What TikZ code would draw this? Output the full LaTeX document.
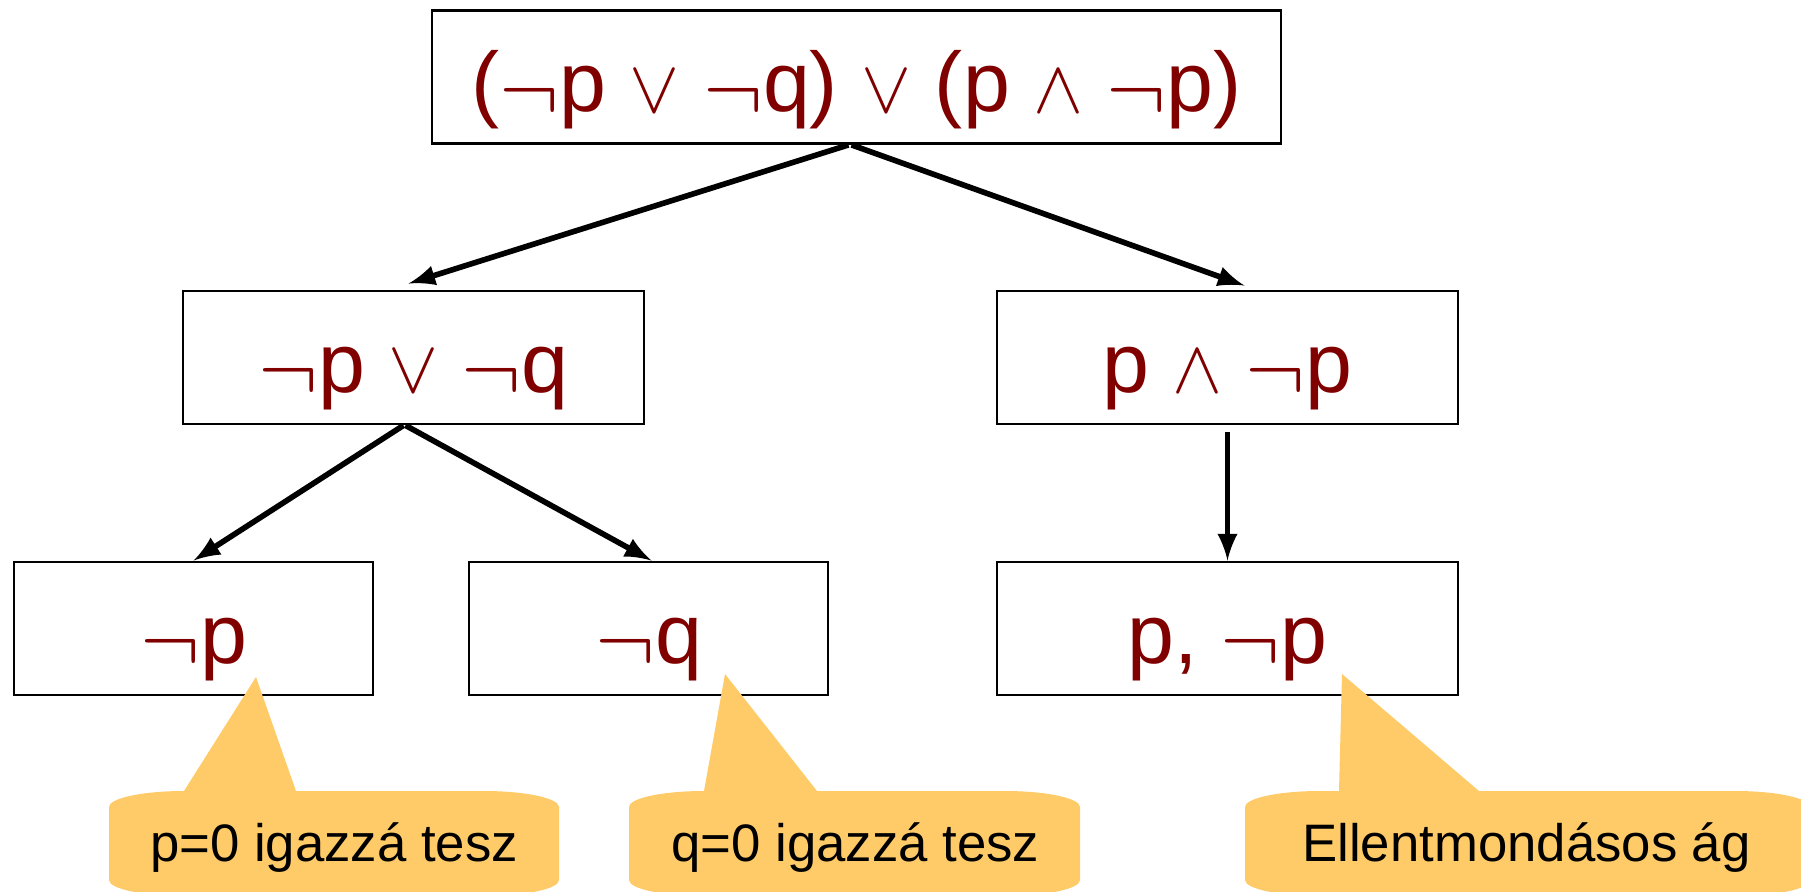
\documentclass[tikz,border=0pt]{standalone}
\usepackage{fontspec}
\setmainfont{Liberation Sans}
\usetikzlibrary{arrows}
\definecolor{darkred}{rgb}{0.5,0,0}
\definecolor{note}{RGB}{254,203,104}
\newcommand{\orsym}{\resizebox{0.5cm}{!}{$\vee$}}
\newcommand{\andsym}{\resizebox{0.5cm}{!}{$\wedge$}}
\newcommand{\notsym}{\raisebox{-0.08cm}{\resizebox{0.6cm}{!}{$\neg$}}}

\begin{document}
\begin{tikzpicture}
    [formula/.style={draw, line width=0.8pt, inner sep=0pt, minimum height=1.33cm, text height=0.8cm, text depth=0.1cm, text=darkred, font=\fontsize{24}{28}\selectfont},
    remark/.style={anchor=base, font=\fontsize{15}{18}\selectfont},
    bubble/.style={fill=note},
    edge/.style={-latex, line width=1.6pt}]
    %\draw[step=1cm,gray,very thin] (0,0) grid (18,-9);
    \clip (0,0) rectangle (18.01,-8.92);
    \node[formula, minimum width=8.49cm] (top) at (8.565,-0.77) {(\notsym p \orsym{} \notsym q) \orsym{} (p \andsym{} \notsym p)};
    \node[formula, minimum width=4.61cm] (lmid) at (4.135,-3.575) {\notsym p \orsym{} \notsym q};
    \node[formula, minimum width=4.61cm] (rmid) at (12.275,-3.575) {p \andsym{} \notsym p};
    \node[formula, minimum width=3.59cm] (lp) at (1.935,-6.285) {\notsym p};
    \node[formula, minimum width=3.59cm] (lq) at (6.485,-6.285) {\notsym q};
    \node[formula, minimum width=4.61cm] (rp) at (12.275,-6.285) {p, \notsym p};
    \draw[edge] ([xshift=-0.08cm]top.south) -- ([xshift=-0.05cm,yshift=0.06cm]lmid.north);
    \draw[edge] ([xshift=-0.05cm]top.south) -- ([xshift=0.17cm,yshift=0.04cm]rmid.north);
    \draw[edge] ([xshift=-0.1cm]lmid.south) -- (lp.north);
    \draw[edge] ([xshift=-0.08cm]lmid.south) -- ([xshift=0.03cm]lq.north);
    \draw[edge] ([yshift=-0.07cm]rmid.south) -- (rp.north);
    \fill[bubble] (1.09,-8.8) -- (1.09,-8.07) arc[start angle=180, end angle=90, x radius=0.75, y radius=0.16]
        -- (1.84,-7.91) -- (2.56,-6.77) -- (2.96,-7.91) -- (4.84,-7.91)
        arc[start angle=90, end angle=0, x radius=0.75, y radius=0.16] -- (5.59,-8.8)
        arc[start angle=0, end angle=-90, x radius=0.75, y radius=0.16] -- (1.84,-8.96)
        arc[start angle=270, end angle=180, x radius=0.75, y radius=0.16] -- cycle;
    \fill[bubble] (6.29,-8.8) -- (6.29,-8.07) arc[start angle=180, end angle=90, x radius=0.75, y radius=0.16]
        -- (7.04,-7.91) -- (7.25,-6.74) -- (8.17,-7.91) -- (10.05,-7.91)
        arc[start angle=90, end angle=0, x radius=0.75, y radius=0.16] -- (10.8,-8.8)
        arc[start angle=0, end angle=-90, x radius=0.75, y radius=0.16] -- (7.04,-8.96)
        arc[start angle=270, end angle=180, x radius=0.75, y radius=0.16] -- cycle;
    \fill[bubble] (12.45,-8.8) -- (12.45,-8.07) arc[start angle=180, end angle=90, x radius=0.75, y radius=0.16]
        -- (13.39,-7.91) -- (13.42,-6.74) -- (14.79,-7.91) -- (17.35,-7.91)
        arc[start angle=90, end angle=0, x radius=0.75, y radius=0.16] -- (18.1,-8.8)
        arc[start angle=0, end angle=-90, x radius=0.75, y radius=0.16] -- (13.2,-8.96)
        arc[start angle=270, end angle=180, x radius=0.75, y radius=0.16] -- cycle;
    \node[remark] (n1) at (3.34,-8.61) {p=0 igazzá tesz};
    \node[remark] (n2) at (8.555,-8.61) {q=0 igazzá tesz};
    \node[remark] (n3) at (15.265,-8.61) {Ellentmondásos ág};
\end{tikzpicture}
\end{document}
